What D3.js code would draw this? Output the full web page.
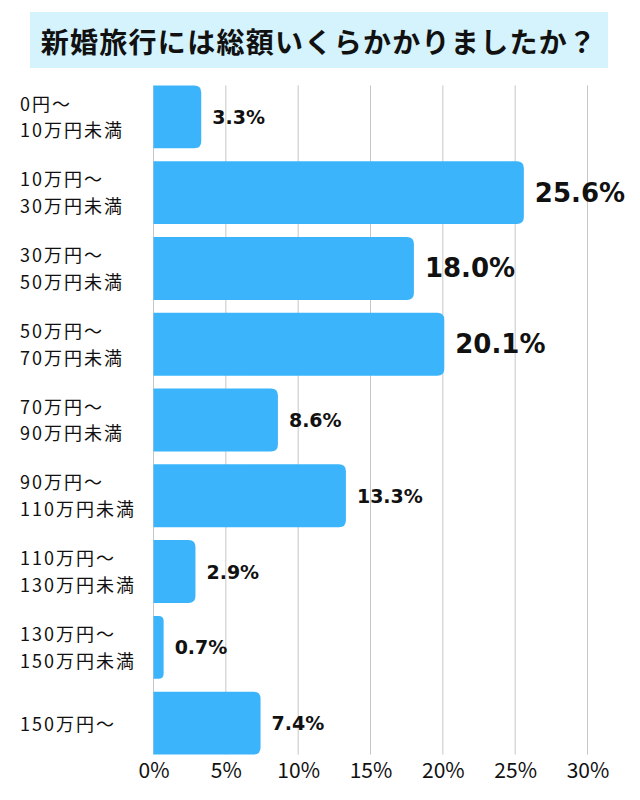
<!DOCTYPE html>
<html>
<head>
<meta charset="utf-8">
<script src="https://cdn.jsdelivr.net/npm/d3@7.9.0/dist/d3.min.js"></script>
<style>
  body { margin: 0; background: #fff; }
  svg { display: block; }
</style>
</head>
<body>
<svg id="chart" width="640" height="800"></svg>
<script>
// ─────────── DATA ───────────
const title = "新婚旅行には総額いくらかかりましたか？";
const categories = [
  ["0円～", "10万円未満"],
  ["10万円～", "30万円未満"],
  ["30万円～", "50万円未満"],
  ["50万円～", "70万円未満"],
  ["70万円～", "90万円未満"],
  ["90万円～", "110万円未満"],
  ["110万円～", "130万円未満"],
  ["130万円～", "150万円未満"],
  ["150万円～"]
];
const values = [3.3, 25.6, 18.0, 20.1, 8.6, 13.3, 2.9, 0.7, 7.4];
const ticks = [0, 5, 10, 15, 20, 25, 30];

// ─────────── LAYOUT ───────────
const svg = d3.select("#chart");
const jp = "'Noto Sans CJK JP', 'Noto Sans', sans-serif";
const num = "'DejaVu Sans', 'Liberation Sans', sans-serif";

// title box
svg.append("rect")
  .attr("x", 30).attr("y", 12)
  .attr("width", 578).attr("height", 56)
  .attr("fill", "#d4f3fd");

svg.append("text")
  .attr("x", 319).attr("y", 41)
  .attr("text-anchor", "middle")
  .attr("dominant-baseline", "central")
  .attr("font-family", jp)
  .attr("font-weight", "bold")
  .attr("font-size", 28)
  .attr("letter-spacing", 1.3)
  .attr("fill", "#111")
  .text(title);

const x = d3.scaleLinear().domain([0, 30]).range([153.5, 587.5]);
const y = d3.scaleBand()
  .domain(d3.range(values.length))
  .range([79, 761])
  .paddingInner(0.17)
  .paddingOuter(0.085);

const gridTop = y(0);
const gridBottom = y(values.length - 1) + y.bandwidth();

// gridlines
svg.append("g")
  .selectAll("line")
  .data(ticks)
  .join("line")
  .attr("x1", d => x(d)).attr("x2", d => x(d))
  .attr("y1", gridTop).attr("y2", gridBottom)
  .attr("stroke", "#c6c6c6")
  .attr("stroke-width", 1);

// x axis tick labels
const xAxis = d3.axisBottom(x)
  .tickValues(ticks)
  .tickFormat(d => d + "%")
  .tickSize(0)
  .tickPadding(0);

svg.append("g")
  .attr("transform", `translate(0, ${gridBottom + 9})`)
  .call(xAxis)
  .call(g => g.select(".domain").remove())
  .selectAll("text")
  .attr("font-family", jp)
  .attr("font-size", 21)
  .attr("fill", "#111");

// bars: square on the left, rounded on the right
const r = 7;
function barPath(i) {
  const x0 = x(0), x1 = x(values[i]);
  const y0 = y(i), h = y.bandwidth();
  const rr = Math.min(r, (x1 - x0) / 2);
  return `M${x0},${y0}H${x1 - rr}Q${x1},${y0} ${x1},${y0 + rr}` +
         `V${y0 + h - rr}Q${x1},${y0 + h} ${x1 - rr},${y0 + h}H${x0}Z`;
}

svg.append("g")
  .selectAll("path")
  .data(values)
  .join("path")
  .attr("d", (d, i) => barPath(i))
  .attr("fill", "#3bb4fc");

// value labels
svg.append("g")
  .selectAll("text")
  .data(values)
  .join("text")
  .attr("x", d => x(d) + 11)
  .attr("y", (d, i) => y(i) + y.bandwidth() / 2)
  .attr("dominant-baseline", "central")
  .attr("font-family", num)
  .attr("font-weight", "bold")
  .attr("font-size", d => d >= 15 ? 26 : 19)
  .attr("fill", "#111")
  .text(d => d.toFixed(1) + "%");

// category labels (one text per line)
const lineGap = 26.6;
categories.forEach((lines, i) => {
  const cy = y(i) + y.bandwidth() / 2;
  const top = lines.length === 1 ? cy : cy - lineGap / 2 - 1;
  svg.append("g")
    .selectAll("text")
    .data(lines)
    .join("text")
    .attr("x", 20)
    .attr("y", (d, k) => top + k * lineGap)
    .attr("dominant-baseline", "central")
    .attr("font-family", jp)
    .attr("font-size", 18)
    .attr("letter-spacing", 2)
    .attr("fill", "#111")
    .text(d => d);
});
</script>
</body>
</html>
